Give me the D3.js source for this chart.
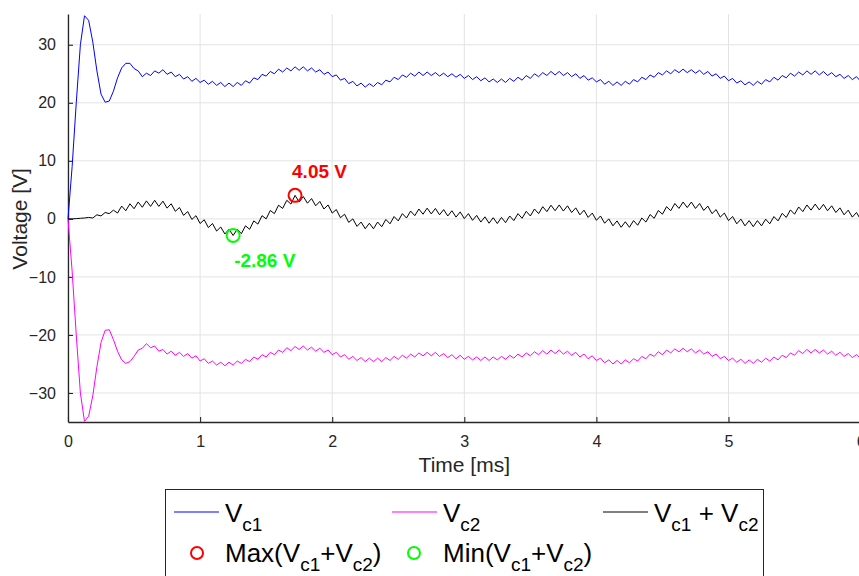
<!DOCTYPE html>
<html>
<head>
<meta charset="utf-8">
<script src="https://cdn.jsdelivr.net/npm/d3@7"></script>
<style>
  html, body { margin: 0; padding: 0; background: #fff; }
  svg { display: block; font-family: "Liberation Sans", Arial, Helvetica, sans-serif; }
</style>
</head>
<body>
<svg id="chart" width="859" height="576"></svg>
<script>
// ---- Data (sampled every 1/32 ms from 0 to 6 ms) ----
const timeStepMs = 0.03125;
const xTicks = [0, 1, 2, 3, 4, 5, 6];
const yTicks = [-30, -20, -10, 0, 10, 20, 30];

const vc1 = [
  0, 9, 20, 30, 35, 34.2, 30.5, 25.5, 21.5, 20.1, 20.3, 22.0, 24.3, 26.0, 26.8, 26.8,
  25.9, 25.5, 24.5, 25.1, 24.7, 25.5, 25.1, 25.7, 24.9, 25.3, 24.5, 24.9, 24.1, 24.5, 23.7, 24.2,
  23.5, 23.9, 23.2, 23.7, 23.0, 23.5, 22.8, 23.4, 22.8, 23.5, 23.0, 23.8, 23.4, 24.3, 24.0, 24.9,
  24.6, 25.4, 25.0, 25.8, 25.3, 26.0, 25.5, 26.2, 25.6, 26.2, 25.5, 26.0, 25.3, 25.7, 24.9, 25.3,
  24.5, 24.8, 23.9, 24.2, 23.3, 23.7, 22.9, 23.4, 22.7, 23.3, 22.8, 23.5, 23.1, 23.9, 23.6, 24.4,
  24.0, 24.8, 24.4, 25.1, 24.6, 25.3, 24.7, 25.3, 24.7, 25.2, 24.6, 25.1, 24.5, 25.0, 24.4, 24.9,
  24.2, 24.7, 24.0, 24.5, 23.8, 24.3, 23.6, 24.1, 23.5, 24.1, 23.5, 24.2, 23.7, 24.4, 23.9, 24.7,
  24.2, 25.0, 24.5, 25.2, 24.7, 25.4, 24.8, 25.4, 24.7, 25.2, 24.5, 25.0, 24.2, 24.7, 23.9, 24.3,
  23.6, 24.0, 23.2, 23.7, 23.0, 23.6, 23.0, 23.7, 23.2, 24.0, 23.6, 24.4, 24.0, 24.8, 24.4, 25.2,
  24.8, 25.5, 25.0, 25.7, 25.2, 25.8, 25.2, 25.7, 25.1, 25.6, 24.9, 25.4, 24.6, 25.0, 24.2, 24.6,
  23.8, 24.2, 23.4, 23.8, 23.1, 23.6, 23.0, 23.7, 23.2, 24.0, 23.6, 24.4, 23.9, 24.7, 24.3, 25.1,
  24.6, 25.3, 24.8, 25.5, 24.9, 25.5, 24.8, 25.4, 24.7, 25.2, 24.5, 24.9, 24.2, 24.7, 24.0, 24.5,
  23.7
];

const vc2 = [
  0, -9, -20, -30, -34.9, -34.0, -30.5, -25.5, -21.3, -19.2, -19.1, -20.8, -22.8, -24.3, -24.9, -24.6,
  -23.7, -22.6, -22.3, -21.5, -22.2, -21.9, -22.8, -22.5, -23.3, -22.8, -23.5, -23.0, -23.7, -23.2, -24.0, -23.6,
  -24.5, -24.1, -24.9, -24.5, -25.2, -24.7, -25.3, -24.7, -25.2, -24.5, -24.9, -24.2, -24.6, -23.8, -24.2, -23.4,
  -23.8, -23.0, -23.4, -22.6, -23.0, -22.2, -22.7, -22.0, -22.5, -21.9, -22.6, -22.1, -22.8, -22.3, -23.0, -22.6,
  -23.4, -23.0, -23.8, -23.4, -24.2, -23.7, -24.4, -23.9, -24.6, -24.0, -24.6, -24.0, -24.6, -23.9, -24.4, -23.7,
  -24.2, -23.5, -24.0, -23.3, -23.8, -23.1, -23.6, -23.0, -23.6, -23.0, -23.7, -23.2, -23.9, -23.4, -24.1, -23.5,
  -24.2, -23.7, -24.3, -23.8, -24.4, -23.8, -24.4, -23.8, -24.3, -23.7, -24.2, -23.5, -24.0, -23.3, -23.8, -23.1,
  -23.6, -22.9, -23.4, -22.7, -23.3, -22.6, -23.2, -22.6, -23.3, -22.8, -23.5, -23.0, -23.8, -23.3, -24.1, -23.6,
  -24.4, -24.0, -24.8, -24.3, -25.0, -24.4, -25.0, -24.3, -24.8, -24.1, -24.5, -23.7, -24.1, -23.3, -23.7, -22.9,
  -23.4, -22.6, -23.1, -22.4, -22.9, -22.3, -22.9, -22.4, -23.1, -22.6, -23.3, -22.9, -23.7, -23.3, -24.1, -23.7,
  -24.4, -24.0, -24.7, -24.2, -24.9, -24.3, -24.9, -24.2, -24.7, -24.0, -24.5, -23.8, -24.3, -23.5, -23.9, -23.1,
  -23.5, -22.7, -23.2, -22.5, -23.1, -22.5, -23.1, -22.6, -23.3, -22.8, -23.5, -23.0, -23.7, -23.2, -23.9, -23.4,
  -24.1
];

const vsum = [
  0, 0.0, 0.05, 0.1, 0.15, 0.25, 0.15, 0.7, 0.5, 1.1, 0.9, 1.5, 1.0, 2.2, 1.4, 2.6,
  1.75, 2.9, 2.0, 3.1, 2.15, 3.2, 2.15, 3.05, 1.85, 2.6, 1.3, 1.95, 0.6, 1.25, -0.1, 0.55,
  -0.8, -0.15, -1.5, -0.8, -2.1, -1.4, -2.6, -1.8, -2.86, -1.8, -2.55, -1.2, -1.8, -0.35, -0.9, 0.55,
  0.0, 1.45, 0.9, 2.35, 1.8, 3.2, 2.55, 4.05, 2.9, 3.85, 2.7, 3.5, 2.25, 3.0, 1.7, 2.4,
  1.0, 1.6, 0.2, 0.8, -0.6, 0.0, -1.3, -0.55, -1.7, -0.75, -1.7, -0.55, -1.35, -0.1, -0.85, 0.4,
  -0.35, 0.9, 0.15, 1.35, 0.55, 1.7, 0.8, 1.85, 0.85, 1.8, 0.7, 1.6, 0.5, 1.4, 0.3, 1.2,
  0.05, 0.9, -0.25, 0.6, -0.55, 0.35, -0.75, 0.2, -0.8, 0.25, -0.65, 0.5, -0.3, 0.9, 0.1, 1.3,
  0.5, 1.7, 0.9, 2.1, 1.25, 2.35, 1.4, 2.4, 1.35, 2.25, 1.1, 1.9, 0.7, 1.5, 0.25, 1.0,
  -0.25, 0.5, -0.75, 0.0, -1.2, -0.35, -1.45, -0.5, -1.45, -0.3, -1.1, 0.15, -0.55, 0.75, 0.1, 1.45,
  0.8, 2.1, 1.4, 2.65, 1.8, 2.9, 1.95, 2.9, 1.8, 2.65, 1.45, 2.2, 0.9, 1.6, 0.3, 1.0,
  -0.3, 0.4, -0.85, -0.05, -1.2, -0.3, -1.35, -0.3, -1.2, -0.05, -0.85, 0.4, -0.35, 0.95, 0.25, 1.55,
  0.8, 2.05, 1.25, 2.4, 1.5, 2.55, 1.55, 2.5, 1.4, 2.25, 1.1, 1.9, 0.7, 1.5, 0.3, 1.1,
  -0.1
];

// ---- Layout ----
const svg = d3.select("#chart");
const axisColor = "#262626";
const gridColor = "#e3e3e3";
const plotLeft = 68, plotRight = 860.6, plotTop = 14, plotBottom = 422;

const x = d3.scaleLinear().domain([0, 6]).range([plotLeft, plotRight]);
const y = d3.scaleLinear().domain([-35, 35.3]).range([plotBottom, plotTop]);

// grid
const grid = svg.append("g");
grid.selectAll("line.gx").data(xTicks).join("line").attr("class", "gx")
  .attr("x1", d => x(d)).attr("x2", d => x(d))
  .attr("y1", plotTop).attr("y2", plotBottom)
  .attr("stroke", gridColor).attr("stroke-width", 1);
grid.selectAll("line.gy").data(yTicks).join("line").attr("class", "gy")
  .attr("x1", plotLeft).attr("x2", plotRight)
  .attr("y1", d => y(d)).attr("y2", d => y(d))
  .attr("stroke", gridColor).attr("stroke-width", 1);

// axes
const xAxis = d3.axisBottom(x).tickValues(xTicks).tickFormat(d3.format("d"))
  .tickSizeInner(-5).tickSizeOuter(0).tickPadding(11);
const yAxis = d3.axisLeft(y).tickValues(yTicks).tickFormat(d3.format("d"))
  .tickSizeInner(-5).tickSizeOuter(0).tickPadding(12);

const gx = svg.append("g").attr("transform", `translate(0,${plotBottom})`).call(xAxis);
const gy = svg.append("g").attr("transform", `translate(${plotLeft},0)`).call(yAxis);
[gx, gy].forEach(g => {
  g.select(".domain").attr("stroke", axisColor).attr("stroke-width", 1.3);
  g.selectAll(".tick line").attr("stroke", axisColor).attr("stroke-width", 1.1);
  g.selectAll(".tick text").attr("fill", axisColor).attr("font-size", 16)
    .attr("font-family", "Liberation Sans, Arial, sans-serif");
});
gx.selectAll(".tick text").attr("dy", "0.85em");

// axis titles
svg.append("text").attr("x", (plotLeft + plotRight) / 2).attr("y", 472)
  .attr("text-anchor", "middle").attr("font-size", 21).attr("fill", axisColor)
  .text("Time [ms]");
svg.append("text").attr("transform", `translate(27,${y(0)}) rotate(-90)`)
  .attr("text-anchor", "middle").attr("font-size", 21).attr("fill", axisColor)
  .text("Voltage [V]");

// lines
const mk = arr => arr.map((v, i) => [i * timeStepMs, v]);
const line = d3.line().x(d => x(d[0])).y(d => y(d[1]));
const series = [
  { data: vc1, color: "#0000ff" },
  { data: vc2, color: "#ff00ff" },
  { data: vsum, color: "#000000" }
];
svg.append("g").selectAll("path").data(series).join("path")
  .attr("d", d => line(mk(d.data)))
  .attr("fill", "none").attr("stroke", d => d.color).attr("stroke-width", 1)
  .attr("stroke-linejoin", "round");

// max / min markers
const pts = mk(vsum);
const maxPt = pts[d3.maxIndex(vsum)];
const minPt = pts[d3.minIndex(vsum)];
svg.append("circle").attr("cx", x(maxPt[0])).attr("cy", y(maxPt[1])).attr("r", 6.5)
  .attr("fill", "none").attr("stroke", "#ff0000").attr("stroke-width", 2);
svg.append("circle").attr("cx", x(minPt[0])).attr("cy", y(minPt[1])).attr("r", 6.5)
  .attr("fill", "none").attr("stroke", "#00ff00").attr("stroke-width", 2);
svg.append("text").attr("x", x(maxPt[0]) - 3).attr("y", y(maxPt[1]) - 17)
  .attr("font-size", 19).attr("font-weight", "bold").attr("fill", "#ff0000")
  .text(maxPt[1].toFixed(2) + " V");
svg.append("text").attr("x", x(minPt[0]) + 1).attr("y", y(minPt[1]) + 32)
  .attr("font-size", 19).attr("font-weight", "bold").attr("fill", "#00ff00")
  .text(minPt[1].toFixed(2) + " V");

// legend
const lg = svg.append("g");
lg.append("rect").attr("x", 165.5).attr("y", 489.5).attr("width", 598).attr("height", 100)
  .attr("fill", "#fff").attr("stroke", axisColor).attr("stroke-width", 1);

function subText(g, xPos, yPos, parts) {
  const t = g.append("text").attr("x", xPos).attr("y", yPos)
    .attr("font-size", 26).attr("fill", "#000");
  parts.forEach(p => {
    const s = t.append("tspan").text(p.t);
    if (p.sub) s.attr("font-size", 19).attr("dy", 9);
    else if (p.up) s.attr("dy", -9);
  });
}
const legendLines = [
  { x1: 174, x2: 219, color: "#0000ff", tx: 225, parts: [{t:"V"},{t:"c1",sub:true}] },
  { x1: 392, x2: 437, color: "#ff00ff", tx: 443, parts: [{t:"V"},{t:"c2",sub:true}] },
  { x1: 603, x2: 648, color: "#000000", tx: 654, parts: [{t:"V"},{t:"c1",sub:true},{t:" + V",up:true},{t:"c2",sub:true}] }
];
legendLines.forEach(d => {
  lg.append("line").attr("x1", d.x1).attr("x2", d.x2).attr("y1", 512).attr("y2", 512)
    .attr("stroke", d.color).attr("stroke-width", 1);
  subText(lg, d.tx, 522, d.parts);
});
const legendMarks = [
  { cx: 197, color: "#ff0000", tx: 225, parts: [{t:"Max(V"},{t:"c1",sub:true},{t:"+V",up:true},{t:"c2",sub:true},{t:")",up:true}] },
  { cx: 414, color: "#00ff00", tx: 443, parts: [{t:"Min(V"},{t:"c1",sub:true},{t:"+V",up:true},{t:"c2",sub:true},{t:")",up:true}] }
];
legendMarks.forEach(d => {
  lg.append("circle").attr("cx", d.cx).attr("cy", 553).attr("r", 6)
    .attr("fill", "none").attr("stroke", d.color).attr("stroke-width", 2);
  subText(lg, d.tx, 562, d.parts);
});
</script>
</body>
</html>
